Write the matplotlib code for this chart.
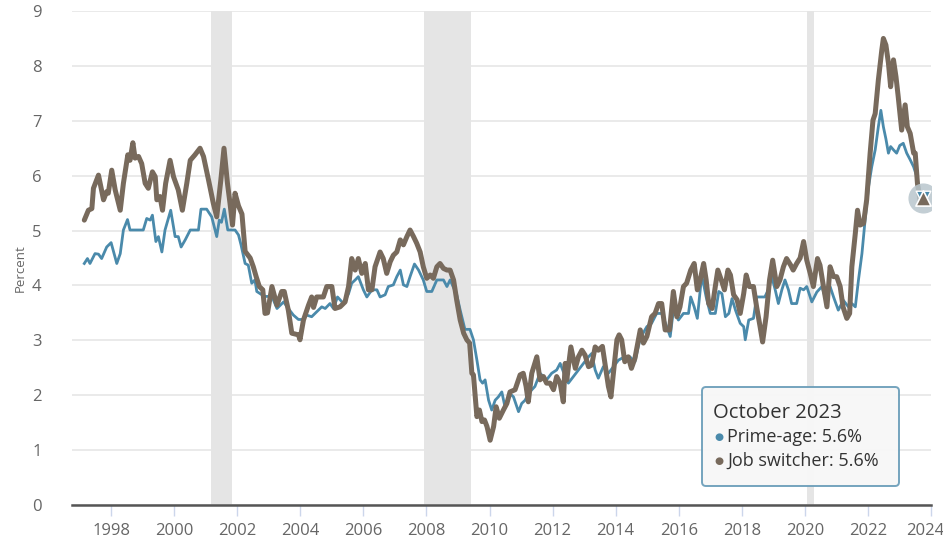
import matplotlib
matplotlib.use("Agg")
import matplotlib.pyplot as plt
from matplotlib.patches import FancyBboxPatch
from matplotlib.transforms import IdentityTransform, ScaledTranslation

# ---------------- data (decimal years, percent) ----------------
switcher_x = [1997.15, 1997.28, 1997.39, 1997.44, 1997.60, 1997.76, 1997.86, 1997.91, 1998.02, 1998.13,
              1998.29, 1998.39, 1998.53, 1998.60, 1998.69, 1998.76, 1998.87, 1998.97, 1999.08, 1999.18,
              1999.31, 1999.40, 1999.45, 1999.55, 1999.63, 1999.73, 1999.87, 1999.98, 2000.13, 2000.26,
              2000.40, 2000.51, 2000.66, 2000.82, 2000.93, 2001.09, 2001.24, 2001.35, 2001.48, 2001.58,
              2001.69, 2001.77, 2001.85, 2001.93, 2002.04, 2002.15, 2002.25, 2002.41, 2002.51, 2002.60,
              2002.70, 2002.81, 2002.88, 2002.96, 2003.10, 2003.26, 2003.41, 2003.49, 2003.62, 2003.73,
              2003.94, 2003.99, 2004.10, 2004.26, 2004.36, 2004.42, 2004.52, 2004.73, 2004.84, 2005.00,
              2005.10, 2005.26, 2005.42, 2005.53, 2005.63, 2005.74, 2005.84, 2005.95, 2006.06, 2006.16,
              2006.27, 2006.37, 2006.53, 2006.63, 2006.74, 2006.85, 2006.95, 2007.06, 2007.17, 2007.27,
              2007.38, 2007.48, 2007.59, 2007.69, 2007.80, 2007.90, 2008.01, 2008.12, 2008.22, 2008.33,
              2008.43, 2008.54, 2008.65, 2008.75, 2008.86, 2008.96, 2009.07, 2009.18, 2009.28, 2009.37,
              2009.44, 2009.49, 2009.60, 2009.68, 2009.76, 2009.84, 2009.92, 2010.02, 2010.13, 2010.21,
              2010.31, 2010.44, 2010.55, 2010.65, 2010.81, 2010.97, 2011.07, 2011.16, 2011.23, 2011.34,
              2011.50, 2011.60, 2011.71, 2011.81, 2011.92, 2012.03, 2012.13, 2012.24, 2012.34, 2012.40,
              2012.45, 2012.58, 2012.72, 2012.82, 2012.93, 2013.03, 2013.14, 2013.24, 2013.35, 2013.45,
              2013.58, 2013.66, 2013.77, 2013.85, 2013.93, 2014.04, 2014.11, 2014.19, 2014.29, 2014.40,
              2014.50, 2014.61, 2014.78, 2014.88, 2014.99, 2015.14, 2015.25, 2015.36, 2015.46, 2015.57,
              2015.71, 2015.83, 2015.94, 2016.04, 2016.15, 2016.25, 2016.38, 2016.49, 2016.59, 2016.68,
              2016.79, 2016.87, 2016.95, 2017.06, 2017.16, 2017.24, 2017.35, 2017.45, 2017.56, 2017.64,
              2017.74, 2017.85, 2017.95, 2018.06, 2018.14, 2018.24, 2018.37, 2018.47, 2018.58, 2018.66,
              2018.77, 2018.88, 2018.98, 2019.11, 2019.21, 2019.32, 2019.42, 2019.55, 2019.63, 2019.74,
              2019.85, 2019.96, 2020.06, 2020.17, 2020.27, 2020.40, 2020.48, 2020.59, 2020.70, 2020.80,
              2020.91, 2021.01, 2021.12, 2021.21, 2021.33, 2021.42, 2021.49, 2021.60, 2021.67, 2021.75,
              2021.86, 2021.96, 2022.07, 2022.16, 2022.23, 2022.33, 2022.44, 2022.49, 2022.57, 2022.65,
              2022.72, 2022.81, 2022.89, 2022.96, 2023.07, 2023.18, 2023.25, 2023.34, 2023.45, 2023.50,
              2023.57, 2023.66, 2023.75]
switcher_y = [5.19, 5.37, 5.40, 5.77, 6.01, 5.56, 5.71, 5.68, 6.10, 5.74,
              5.37, 5.86, 6.38, 6.28, 6.60, 6.32, 6.35, 6.22, 5.86, 5.77,
              6.07, 5.98, 5.56, 5.62, 5.37, 5.86, 6.28, 5.98, 5.74, 5.37,
              5.86, 6.28, 6.38, 6.50, 6.35, 5.92, 5.50, 5.25, 5.92, 6.50,
              5.86, 5.50, 5.10, 5.68, 5.45, 5.30, 4.62, 4.50, 4.34, 4.16,
              3.98, 3.92, 3.49, 3.50, 3.98, 3.64, 3.89, 3.89, 3.55, 3.13,
              3.10, 3.01, 3.37, 3.64, 3.79, 3.60, 3.79, 3.79, 3.98, 3.98,
              3.58, 3.61, 3.70, 3.98, 4.49, 4.28, 4.49, 4.22, 4.40, 3.92,
              3.92, 4.34, 4.61, 4.49, 4.22, 4.43, 4.55, 4.61, 4.83, 4.74,
              4.89, 5.01, 4.89, 4.77, 4.61, 4.34, 4.13, 4.19, 4.13, 4.34,
              4.40, 4.31, 4.28, 4.28, 4.10, 3.73, 3.37, 3.13, 3.01, 2.95,
              2.40, 2.37, 1.61, 1.73, 1.52, 1.55, 1.43, 1.18, 1.43, 1.79,
              1.58, 1.73, 1.85, 2.06, 2.10, 2.37, 2.40, 2.16, 1.88, 2.40,
              2.70, 2.28, 2.34, 2.22, 2.22, 2.10, 2.34, 2.22, 1.88, 2.58,
              2.28, 2.88, 2.49, 2.70, 2.82, 2.73, 2.52, 2.55, 2.88, 2.82,
              2.89, 2.58, 2.16, 1.97, 2.40, 3.01, 3.10, 3.01, 2.61, 2.70,
              2.49, 2.67, 3.19, 2.95, 3.07, 3.43, 3.49, 3.67, 3.67, 3.19,
              3.19, 3.89, 3.43, 3.61, 3.98, 4.04, 4.28, 4.40, 3.92, 4.10,
              4.40, 4.10, 3.67, 3.58, 3.98, 4.28, 4.10, 3.92, 4.28, 4.19,
              3.83, 3.74, 3.49, 3.85, 4.19, 3.98, 3.98, 3.61, 3.25, 2.97,
              3.43, 4.10, 4.46, 3.98, 4.10, 4.34, 4.49, 4.37, 4.28, 4.40,
              4.50, 4.80, 4.46, 4.22, 3.98, 4.49, 4.37, 3.98, 3.61, 4.34,
              4.16, 4.16, 3.98, 3.61, 3.40, 3.49, 4.34, 4.95, 5.37, 5.10,
              5.13, 5.56, 6.41, 7.01, 7.13, 7.74, 8.29, 8.50, 8.38, 8.05,
              7.62, 8.11, 7.80, 7.44, 6.83, 7.29, 6.89, 6.77, 6.41, 6.41,
              5.86, 5.52, 5.60]

prime_x = [1997.15, 1997.25, 1997.33, 1997.49, 1997.60, 1997.70, 1997.86, 1998.00, 1998.18, 1998.29,
           1998.39, 1998.52, 1998.60, 1999.02, 1999.13, 1999.24, 1999.31, 1999.42, 1999.50, 1999.61,
           1999.71, 1999.89, 2000.03, 2000.13, 2000.22, 2000.35, 2000.51, 2000.77, 2000.85, 2001.03,
           2001.19, 2001.35, 2001.43, 2001.50, 2001.59, 2001.70, 2001.93, 2002.04, 2002.12, 2002.25,
           2002.35, 2002.46, 2002.56, 2002.62, 2002.78, 2002.88, 2003.10, 2003.26, 2003.47, 2003.62,
           2003.78, 2003.94, 2004.10, 2004.20, 2004.36, 2004.52, 2004.68, 2004.79, 2004.94, 2005.05,
           2005.18, 2005.37, 2005.53, 2005.63, 2005.74, 2005.84, 2006.00, 2006.11, 2006.27, 2006.43,
           2006.53, 2006.69, 2006.79, 2006.95, 2007.06, 2007.17, 2007.27, 2007.38, 2007.48, 2007.62,
           2007.75, 2007.90, 2008.01, 2008.17, 2008.33, 2008.54, 2008.65, 2008.75, 2008.96, 2009.07,
           2009.22, 2009.38, 2009.49, 2009.60, 2009.70, 2009.78, 2009.86, 2009.97, 2010.07, 2010.18,
           2010.28, 2010.39, 2010.49, 2010.65, 2010.76, 2010.92, 2011.02, 2011.13, 2011.23, 2011.44,
           2011.60, 2011.71, 2011.81, 2011.97, 2012.13, 2012.24, 2012.34, 2012.50, 2012.66, 2012.82,
           2012.98, 2013.14, 2013.24, 2013.35, 2013.45, 2013.61, 2013.77, 2013.93, 2014.09, 2014.25,
           2014.45, 2014.61, 2014.78, 2014.99, 2015.14, 2015.30, 2015.46, 2015.62, 2015.73, 2015.83,
           2015.99, 2016.15, 2016.31, 2016.38, 2016.49, 2016.59, 2016.73, 2016.87, 2017.00, 2017.16,
           2017.27, 2017.37, 2017.48, 2017.59, 2017.69, 2017.80, 2017.95, 2018.06, 2018.11, 2018.22,
           2018.37, 2018.47, 2018.58, 2018.73, 2018.84, 2018.95, 2019.06, 2019.16, 2019.27, 2019.37,
           2019.48, 2019.58, 2019.74, 2019.85, 2019.96, 2020.06, 2020.22, 2020.38, 2020.54, 2020.64,
           2020.80, 2020.91, 2021.06, 2021.22, 2021.38, 2021.49, 2021.60, 2021.70, 2021.81, 2021.91,
           2022.02, 2022.12, 2022.23, 2022.33, 2022.41, 2022.49, 2022.57, 2022.65, 2022.72, 2022.81,
           2022.91, 2023.01, 2023.12, 2023.23, 2023.34, 2023.45, 2023.55, 2023.66, 2023.75]
prime_y = [4.40, 4.49, 4.40, 4.58, 4.57, 4.49, 4.70, 4.78, 4.40, 4.58,
           5.01, 5.20, 5.01, 5.01, 5.22, 5.19, 5.28, 4.80, 4.89, 4.61,
           5.01, 5.37, 4.89, 4.89, 4.70, 4.83, 5.01, 5.01, 5.39, 5.39,
           5.25, 4.89, 5.19, 5.15, 5.39, 5.01, 5.01, 4.92, 4.74, 4.40,
           4.37, 4.04, 4.10, 3.89, 3.83, 3.80, 3.80, 3.58, 3.70, 3.58,
           3.46, 3.38, 3.38, 3.46, 3.43, 3.52, 3.61, 3.58, 3.67, 3.58,
           3.79, 3.67, 3.85, 4.04, 4.10, 4.16, 3.92, 3.79, 3.92, 3.92,
           3.79, 3.83, 3.98, 4.01, 4.16, 4.28, 4.01, 3.98, 4.16, 4.39,
           4.28, 4.10, 3.89, 3.89, 4.10, 4.10, 3.98, 4.10, 3.83, 3.55,
           3.20, 3.20, 3.01, 2.64, 2.28, 2.22, 2.28, 1.91, 1.73, 1.91,
           1.97, 2.06, 1.79, 2.03, 1.97, 1.70, 1.85, 1.91, 2.03, 2.16,
           2.40, 2.34, 2.28, 2.40, 2.46, 2.58, 2.43, 2.22, 2.34, 2.46,
           2.58, 2.70, 2.76, 2.46, 2.31, 2.52, 2.40, 2.52, 2.64, 2.69,
           2.70, 2.61, 3.04, 3.25, 3.31, 3.49, 3.49, 3.25, 3.07, 3.55,
           3.37, 3.49, 3.49, 3.79, 3.61, 3.40, 4.19, 3.79, 3.49, 3.49,
           3.89, 3.85, 3.43, 3.49, 3.76, 3.55, 3.31, 3.25, 3.01, 3.37,
           3.40, 3.79, 3.79, 3.79, 3.92, 4.16, 3.92, 3.67, 3.92, 4.10,
           3.92, 3.67, 3.67, 3.95, 3.92, 3.98, 3.70, 3.88, 3.98, 3.79,
           3.98, 3.79, 3.55, 3.73, 3.61, 3.67, 3.61, 4.10, 4.58, 5.19,
           5.80, 6.16, 6.47, 6.89, 7.19, 6.89, 6.67, 6.41, 6.53, 6.47,
           6.41, 6.55, 6.59, 6.41, 6.29, 6.16, 5.98, 5.68, 5.60]

recession_start = [2001.17, 2007.92, 2020.08]
recession_end = [2001.83, 2009.42, 2020.30]

x_ticks = list(range(1998, 2025, 2))
y_ticks = list(range(0, 10))
tooltip_title = "October 2023"
tooltip_prime = "Prime-age: 5.6%"
tooltip_switcher = "Job switcher: 5.6%"

# ---------------- style ----------------
FONT = ["Open Sans", "DejaVu Sans"]
plt.rcParams["font.family"] = FONT
BLUE = "#4a8aab"
BROWN = "#786a5c"
GRID = "#e6e6e6"
TICKTXT = "#666666"

W, H = 943, 543
fig = plt.figure(figsize=(W / 100, H / 100), dpi=100)
fig.patch.set_facecolor("white")
ax = fig.add_axes([72 / W, 1 - 505 / H, (931 - 72) / W, (505 - 11) / H])
ax.set_xlim(1996.76, 2024.0)
ax.set_ylim(0, 9)

for s, e in zip(recession_start, recession_end):
    ax.axvspan(s, e, color="#e5e5e5", zorder=0.5, lw=0)

ax.set_yticks(y_ticks)
ax.set_xticks(x_ticks)
ax.grid(axis="y", color=GRID, lw=1.2, zorder=0.6)
ax.set_axisbelow(True)
for side in ["left", "right", "top"]:
    ax.spines[side].set_visible(False)
ax.spines["bottom"].set_color("#555555")
ax.spines["bottom"].set_linewidth(1.8)
ax.spines["bottom"].set_zorder(5)

ax.tick_params(axis="y", length=0, pad=22, labelsize=12, labelcolor=TICKTXT)
ax.tick_params(axis="x", length=8, width=1, color="#ccd6eb", pad=5,
               labelsize=12, labelcolor=TICKTXT)

# keep the last x label inside the figure, as the reference does
last_lbl = ax.get_xticklabels()[-1]
last_lbl.set_transform(last_lbl.get_transform() +
                       ScaledTranslation(-6 / 100, 0, fig.dpi_scale_trans))

ax.plot(prime_x, prime_y, color=BLUE, lw=2.0, solid_joinstyle="round", zorder=3)
ax.plot(switcher_x, switcher_y, color=BROWN, lw=3.6, solid_joinstyle="round",
        solid_capstyle="round", zorder=4)

# end markers with halo
ax.scatter([switcher_x[-1]], [switcher_y[-1]], s=470, color="#b9c6cd", alpha=0.85,
           zorder=5, lw=0)
ax.scatter([prime_x[-1]], [prime_y[-1]], marker="v", s=110, color=BLUE,
           edgecolors="white", linewidths=1, zorder=6)
ax.scatter([switcher_x[-1]], [switcher_y[-1]], marker="^", s=120, color=BROWN,
           edgecolors="white", linewidths=1.2, zorder=7)

fig.text(20 / W, 1 - 268 / H, "Percent", rotation=90, ha="center", va="center",
         fontsize=9.5, color=TICKTXT)

# tooltip
box = FancyBboxPatch((702, H - 486), 197, 99, boxstyle="round,pad=0,rounding_size=4",
                     transform=IdentityTransform(), facecolor="#f7f7f7", alpha=0.95,
                     edgecolor="#6d9fba", linewidth=1.4, zorder=10)
fig.add_artist(box)
fig.text(713 / W, 1 - 413 / H, tooltip_title, fontsize=14.6, color="#333333",
         ha="left", va="center", zorder=11)
fig.text(714 / W, 1 - 437 / H, "●", fontsize=7.5, color=BLUE, ha="left", va="center",
         family=["DejaVu Sans"], zorder=11)
fig.text(727 / W, 1 - 437 / H, tooltip_prime, fontsize=13, color="#333333",
         ha="left", va="center", zorder=11)
fig.text(714 / W, 1 - 461 / H, "●", fontsize=7.5, color=BROWN, ha="left", va="center",
         family=["DejaVu Sans"], zorder=11)
fig.text(727 / W, 1 - 461 / H, tooltip_switcher, fontsize=13, color="#333333",
         ha="left", va="center", zorder=11)

fig.savefig("out.png", dpi=100, facecolor="white")
